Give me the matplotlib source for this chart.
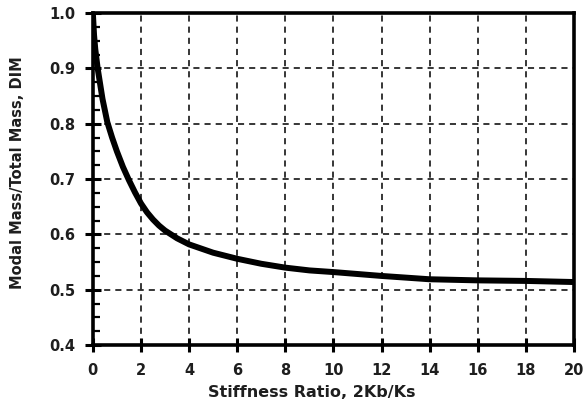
import matplotlib
matplotlib.use("Agg")
import matplotlib.pyplot as plt
from matplotlib.ticker import MultipleLocator

stiffness_ratio = [0, 0.05, 0.1, 0.2, 0.4, 0.6, 0.8, 1.0, 1.25, 1.5, 1.75, 2, 2.25, 2.5, 2.75,
                   3, 3.5, 4, 5, 6, 7, 8, 9, 10, 12, 14, 16, 18, 20]
modal_mass = [1.0, 0.96, 0.935, 0.9, 0.845, 0.803, 0.775, 0.750, 0.722, 0.698, 0.676, 0.656,
              0.640, 0.627, 0.616, 0.607, 0.593, 0.582, 0.567, 0.556, 0.547, 0.540, 0.535,
              0.532, 0.525, 0.519, 0.517, 0.516, 0.514]
x_ticks = [0, 2, 4, 6, 8, 10, 12, 14, 16, 18, 20]
y_ticks = [0.4, 0.5, 0.6, 0.7, 0.8, 0.9, 1.0]

plt.rcParams['font.family'] = ['DejaVu Sans']
fig = plt.figure(figsize=(5.84, 4.07), dpi=100)
ax = fig.add_axes([0.159, 0.152, 0.824, 0.816])

ax.plot(stiffness_ratio, modal_mass, color='black', lw=4.3, solid_capstyle='butt',
        solid_joinstyle='round', zorder=3)

ax.set_xlim(0, 20)
ax.set_ylim(0.4, 1.0)
ax.set_xticks(x_ticks)
ax.set_yticks(y_ticks)
ax.set_xticklabels([str(t) for t in x_ticks])
ax.set_yticklabels([f"{t:.1f}" for t in y_ticks])
ax.yaxis.set_minor_locator(MultipleLocator(0.025))

ax.grid(True, which='major', color='black', linestyle=(0, (4, 3.3)), lw=1.1)
for s in ax.spines.values():
    s.set_linewidth(2.6)

tc = '#1e1e1e'
ax.tick_params(axis='x', which='major', direction='inout', length=9.5, width=2.2,
               labelsize=10.5, labelcolor=tc, pad=8)
ax.tick_params(axis='y', which='major', direction='inout', length=11, width=2.2,
               labelsize=10.5, labelcolor=tc, pad=7)
ax.tick_params(axis='y', which='minor', direction='in', length=5, width=1.6)
for lab in ax.get_xticklabels() + ax.get_yticklabels():
    lab.set_fontweight('bold')

ax.set_xlabel('Stiffness Ratio, 2Kb/Ks', fontsize=11.5, fontweight='bold', color=tc)
ax.set_ylabel('Modal Mass/Total Mass, DIM', fontsize=10.5, fontweight='bold', color=tc)
ax.xaxis.set_label_coords(0.455, -0.12)
ax.yaxis.set_label_coords(-0.14, 0.52)

fig.savefig('out.png', dpi=100)
